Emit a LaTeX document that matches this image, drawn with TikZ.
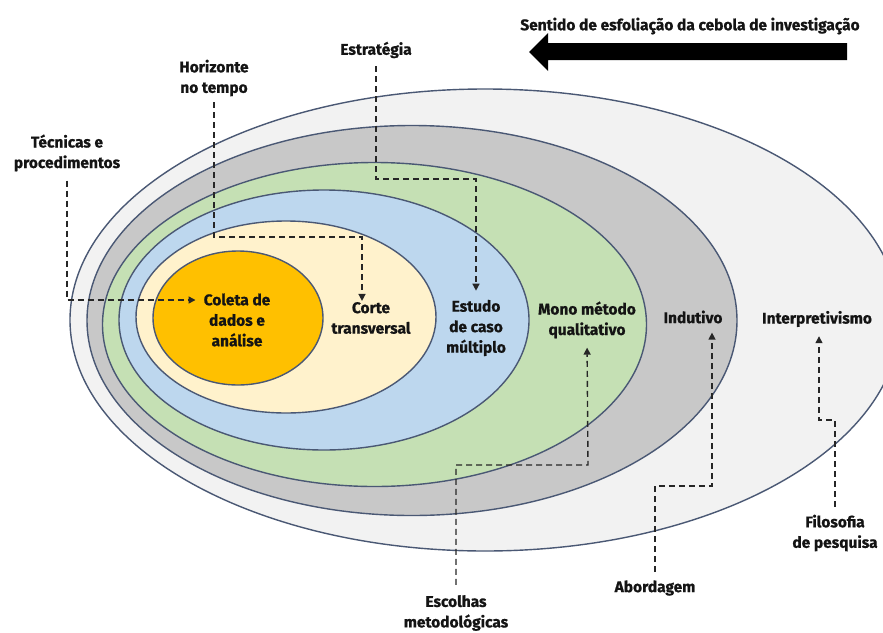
\documentclass[tikz,border=0pt]{standalone}
\usepackage{fontspec}
\setmainfont{Fira Sans}[BoldFeatures={FakeBold=0.8}]
\usetikzlibrary{arrows.meta,calc}

\definecolor{rimline}{HTML}{4A5874}
\definecolor{layerA}{HTML}{F2F2F2}
\definecolor{layerB}{HTML}{C8C8C8}
\definecolor{layerC}{HTML}{C5E0B4}
\definecolor{layerD}{HTML}{BDD7EE}
\definecolor{layerE}{HTML}{FFF2CC}
\definecolor{layerF}{HTML}{FFC000}
\definecolor{inkdark}{HTML}{141414}
\definecolor{dashink}{HTML}{262626}

\begin{document}
\begin{tikzpicture}[x=1pt,y=-1pt,
  ring/.style={draw=rimline, line width=1.4pt},
  lbl/.style={font=\bfseries\fontsize{15.5}{20.5}\selectfont, text=inkdark, align=center, inner sep=0pt},
  conn/.style={draw=dashink, line width=1.4pt, dash pattern=on 6pt off 4pt,
    -{Triangle[length=7pt,width=7pt]}},
]
\useasboundingbox (0,0) rectangle (883,632);
\fill[white] (0,0) rectangle (883,632);

% nested layers of the onion, outermost first
\filldraw[ring, fill=layerA] (485,320) ellipse [x radius=415, y radius=231];
\filldraw[ring, fill=layerB] (412,320.5) ellipse [x radius=325, y radius=195];
\filldraw[ring, fill=layerC] (374.5,324.5) ellipse [x radius=272, y radius=162];
\filldraw[ring, fill=layerD] (324,320) ellipse [x radius=205, y radius=130];
\filldraw[ring, fill=layerE] (286,317) ellipse [x radius=150, y radius=96];
\filldraw[ring, fill=layerF] (238,318) ellipse [x radius=85, y radius=67];

% peeling direction
\node[lbl] (title) at (690,26) {Sentido de esfoliação da cebola de investigação};
\fill[black] (529,52) -- (548,33) -- (548,43) -- (847,43) -- (847,60)
  -- (548,60) -- (548,71) -- cycle;

% labels inside the layers
\node[lbl] (coleta) at (237,320) {Coleta de\\dados e\\análise};
\node[lbl] (corte) at (371,318) {Corte\\transversal};
\node[lbl] (estudo) at (476,328) {Estudo\\de caso\\múltiplo};
\node[lbl] (mono) at (587,320) {Mono método\\qualitativo};
\node[lbl] (indut) at (693,317) {Indutivo};
\node[lbl] (interp) at (817,319) {Interpretivismo};

% labels outside the layers
\node[lbl] (tecn) at (67,153) {Técnicas e\\procedimentos};
\node[lbl] (horiz) at (214,78) {Horizonte\\no tempo};
\node[lbl] (estrat) at (376,50) {Estratégia};
\node[lbl] (escol) at (456,613) {Escolhas\\metodológicas};
\node[lbl] (abord) at (655,588) {Abordagem};
\node[lbl] (filos) at (835,533) {Filosofia\\de pesquisa};

% bends of the dashed leaders
\coordinate (bendT) at (67,300);
\coordinate (bendH) at (362,237);
\coordinate (bendS) at (376,179);
\coordinate (bendM) at (588,465);
\coordinate (bendI) at (712,486);
\coordinate (bendP) at (819,420);

\draw[conn, shorten <=9pt, shorten >=8pt] (tecn.south) -- (bendT) -- (coleta.west |- bendT);
\draw[conn, shorten <=6pt, shorten >=1pt] (horiz.south) |- (bendH) -- (bendH |- corte.north);
\draw[conn, shorten <=8pt, shorten >=9pt] (estrat.south) -- (bendS) -| (estudo.north);
\draw[conn, shorten <=10pt, shorten >=9pt] (escol.north) |- (bendM) -- (mono.south);
\draw[conn, shorten <=8pt, shorten >=9pt] (abord.north) |- (bendI) -- (bendI |- indut.south);
\draw[conn, shorten <=8pt, shorten >=9pt] (filos.north) |- (bendP) -- (bendP |- interp.south);
\end{tikzpicture}
\end{document}
